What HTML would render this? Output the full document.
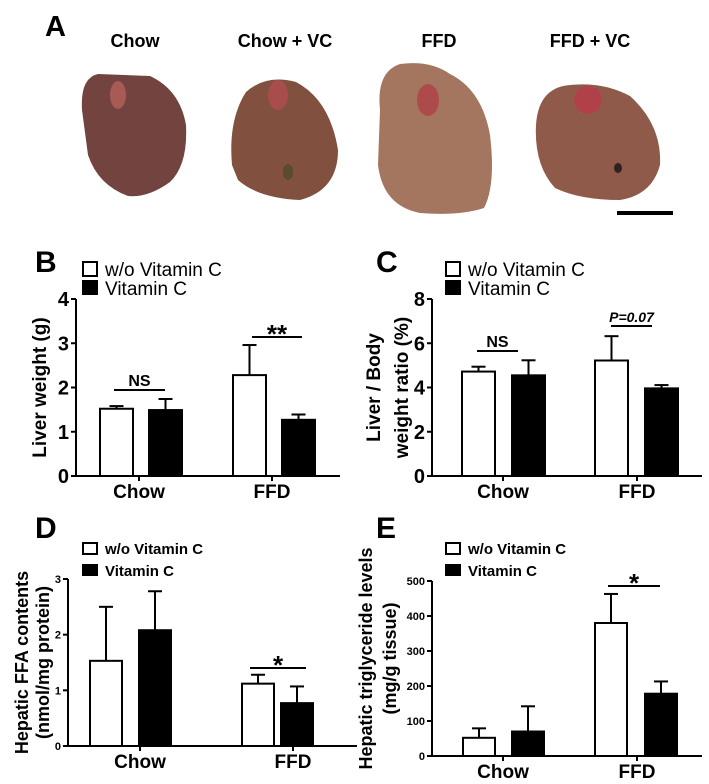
<!DOCTYPE html>
<html><head><meta charset="utf-8"><style>
html,body{margin:0;padding:0;background:#fff;}
svg{display:block;font-family:"Liberation Sans",Arial,sans-serif;}
</style></head><body>
<svg id="fig" width="709" height="784" viewBox="0 0 709 784">
<g>
<text x="45" y="36" font-size="29" font-weight="bold">A</text>
<g font-size="18" font-weight="bold" text-anchor="middle">
<text x="135" y="47">Chow</text>
<text x="285" y="47">Chow + VC</text>
<text x="439" y="47">FFD</text>
<text x="590" y="47">FFD + VC</text>
</g>
<path d="M82 110 Q80 78 98 74 L150 76 Q180 90 186 125 Q188 165 170 182 Q148 198 128 196 Q98 185 88 155 Z" fill="#73433f"/>
<ellipse cx="118" cy="95" rx="8" ry="14" fill="#a85a55"/>
<path d="M232 165 Q228 120 246 92 Q266 74 296 82 Q330 100 338 150 Q338 190 300 200 Q258 198 238 180 Z" fill="#82503f"/>
<ellipse cx="278" cy="95" rx="10" ry="15" fill="#a84c4c"/>
<ellipse cx="288" cy="172" rx="5" ry="8" fill="#5a4a30"/>
<path d="M380 110 Q376 72 400 64 Q430 60 450 74 Q482 90 490 135 Q496 185 484 208 Q460 216 420 213 Q383 206 378 165 Z" fill="#a47660"/>
<ellipse cx="428" cy="100" rx="11" ry="16" fill="#ad4b4c"/>
<path d="M536 125 Q538 92 563 86 Q600 80 630 96 Q662 125 660 165 Q652 195 620 200 Q580 200 555 188 Q534 165 536 125 Z" fill="#8f5a4a"/>
<ellipse cx="588" cy="100" rx="14" ry="14" fill="#b0404a"/>
<ellipse cx="618" cy="168" rx="4" ry="5" fill="#2f2220"/>
<rect x="617" y="211" width="56" height="4" fill="#000"/>
</g>
<g id="charts"></g>
</svg>
<script>
// Panel B
const catsB=["Chow","FFD"];
const meanB_wo=[1.52,2.28];const errB_wo=[0.06,0.68];
const meanB_vc=[1.49,1.27];const errB_vc=[0.25,0.12];
const ticksB=[0,1,2,3,4];
// Panel C
const catsC=["Chow","FFD"];
const meanC_wo=[4.72,5.22];const errC_wo=[0.22,1.1];
const meanC_vc=[4.55,3.96];const errC_vc=[0.68,0.15];
const ticksC=[0,2,4,6,8];
// Panel D
const catsD=["Chow","FFD"];
const meanD_wo=[1.53,1.12];const errD_wo=[0.97,0.16];
const meanD_vc=[2.08,0.77];const errD_vc=[0.7,0.3];
const ticksD=[0,1,2,3];
// Panel E
const catsE=["Chow","FFD"];
const meanE_wo=[52,380];const errE_wo=[27,83];
const meanE_vc=[70,178];const errE_vc=[72,35];
const ticksE=[0,100,200,300,400,500];

const NS="http://www.w3.org/2000/svg";
const root=document.getElementById('charts');
function mk(tag,attrs,parent,text){const e=document.createElementNS(NS,tag);for(const k in attrs)e.setAttribute(k,attrs[k]);if(text!==undefined)e.textContent=text;(parent||root).appendChild(e);return e;}

function panel(cfg){
  const g=mk('g',{});
  
  
  const ymax=cfg.ticks[cfg.ticks.length-1];
  const y=v=>cfg.y0-(v/ymax)*(cfg.y0-cfg.yTop);
  const big=cfg.big;
  const pl=mk('text',{x:cfg.lx,y:cfg.ly,'font-size':30,'font-weight':'bold'},g,cfg.id.toUpperCase());
  
  
  const lg=mk('g',{},g);
  
  
  const lfs=big?19:15, lw=big?'normal':'bold';
  const r1=mk('rect',{x:cfg.legx,y:cfg.legy,width:14,height:big?14:11,fill:'#fff',stroke:'#000','stroke-width':2},lg);
  
  
  const t1=mk('text',{x:cfg.legx+22,y:cfg.legy+(big?14:11),'font-size':lfs,'font-weight':lw},lg,'w/o Vitamin C');
  
  
  const dy=big?18:21;
  const r2=mk('rect',{x:cfg.legx-1,y:cfg.legy+dy,width:16,height:big?15:12,fill:'#000'},lg);
  
  
  const t2=mk('text',{x:cfg.legx+22,y:cfg.legy+dy+(big?15:12),'font-size':lfs,'font-weight':lw},lg,'Vitamin C');
  
  
  const ya=mk('line',{x1:cfg.ax,y1:cfg.yTop,x2:cfg.ax,y2:cfg.y0,stroke:'#000','stroke-width':2},g);
  
  
  const xa=mk('line',{x1:cfg.ax,y1:cfg.y0,x2:cfg.axEnd,y2:cfg.y0,stroke:'#000','stroke-width':2},g);
  
  
  cfg.ticks.forEach(t=>{
    mk('line',{x1:cfg.ax-5,y1:y(t),x2:cfg.ax,y2:y(t),stroke:'#000','stroke-width':2},g);
    const tl=mk('text',{x:cfg.ax-7,y:y(t)+(big?7:4),'text-anchor':'end','font-size':big?20:11,'font-weight':'bold'},g,t);
    
    
  });
  const yt=mk('text',{transform:`translate(${cfg.tx},${(cfg.yTop+cfg.y0)/2+(cfg.tyOff||0)}) rotate(-90)`,'text-anchor':'middle','font-size':cfg.tfs||19,'font-weight':'bold'},g);
  
  
  cfg.title.forEach((s,i)=>mk('tspan',{x:0,dy:i?cfg.tls:0},yt,s));
  const w=cfg.bw;
  cfg.cats.forEach((c,i)=>{
    const cx=cfg.cx[i];
    mk('line',{x1:cfg.tick[i],y1:cfg.y0,x2:cfg.tick[i],y2:cfg.y0+5,stroke:'#000','stroke-width':2},g);
    const cl=mk('text',{x:cfg.tick[i],y:cfg.y0+22,'text-anchor':'middle','font-size':19,'font-weight':'bold'},g,c);
    
    
    [[cfg.wo,cfg.ewo,'#fff',cx[0],'bar-wo-'+c.toLowerCase()],[cfg.vc,cfg.evc,'#000',cx[1],'bar-vc-'+c.toLowerCase()]].forEach(([m,e,f,x0,nm])=>{
      const top=y(m[i]);
      mk('line',{x1:x0+w/2,y1:y(m[i]+e[i]),x2:x0+w/2,y2:top,stroke:'#000','stroke-width':2},g);
      mk('line',{x1:x0+w/2-7,y1:y(m[i]+e[i]),x2:x0+w/2+7,y2:y(m[i]+e[i]),stroke:'#000','stroke-width':2},g);
      const b=mk('rect',{x:x0+1,y:top,width:w-2,height:cfg.y0-top,fill:f,stroke:'#000','stroke-width':2},g);
      
      
    });
  });
  cfg.sig.forEach(s=>{
    mk('line',{x1:s.x1,y1:s.y,x2:s.x2,y2:s.y,stroke:'#000','stroke-width':2},g);
    const st=mk('text',{x:(s.x1+s.x2)/2,y:s.y-(s.star?-6:4),'text-anchor':'middle','font-size':s.fs,'font-weight':'bold','font-style':s.it?'italic':'normal'},g,s.t);
    
    
  });
}
panel({id:'b',big:true,lx:35,ly:272,legx:83,legy:262,ax:76,axEnd:340,yTop:299,y0:476,ticks:ticksB,tx:46,title:['Liver weight (g)'],tls:0,
 cats:catsB,wo:meanB_wo,ewo:errB_wo,vc:meanB_vc,evc:errB_vc,bw:35,cx:[[99,148],[232,281]],tick:[139,272],
 sig:[{x1:114,x2:165,y:390,t:'NS',fs:16},{x1:252,x2:302,y:337,t:'**',fs:26,star:true}]});
panel({id:'c',big:true,lx:376,ly:272,legx:446,legy:262,ax:432,axEnd:702,yTop:299,y0:476,ticks:ticksC,tx:380,title:['Liver / Body','weight ratio (%)'],tls:28,
 cats:catsC,wo:meanC_wo,ewo:errC_wo,vc:meanC_vc,evc:errC_vc,bw:35,cx:[[461,511],[594,644]],tick:[503,637],
 sig:[{x1:477,x2:518,y:351,t:'NS',fs:16},{x1:611,x2:652,y:326,t:'P=0.07',fs:14,it:true}]});
panel({id:'d',big:false,lx:35,ly:538,legx:83,legy:543,ax:68,axEnd:357,yTop:579,y0:746,ticks:ticksD,tx:28,tfs:18,title:['Hepatic FFA contents','(nmol/mg protein)'],tls:21,
 cats:catsD,wo:meanD_wo,ewo:errD_wo,vc:meanD_vc,evc:errD_vc,bw:34,cx:[[89,138],[241,280]],tick:[140,293],
 sig:[{x1:250,x2:306,y:668,t:'*',fs:26,star:true}]});
panel({id:'e',big:false,lx:376,ly:538,legx:446,legy:543,ax:432,axEnd:702,yTop:581,y0:756,ticks:ticksE,tx:372,tfs:18,tyOff:-10,title:['Hepatic triglyceride levels','(mg/g tissue)'],tls:24,
 cats:catsE,wo:meanE_wo,ewo:errE_wo,vc:meanE_vc,evc:errE_vc,bw:34,cx:[[462,511],[594,644]],tick:[503,637],
 sig:[{x1:608,x2:660,y:586,t:'*',fs:26,star:true}]});
</script>
</body></html>
